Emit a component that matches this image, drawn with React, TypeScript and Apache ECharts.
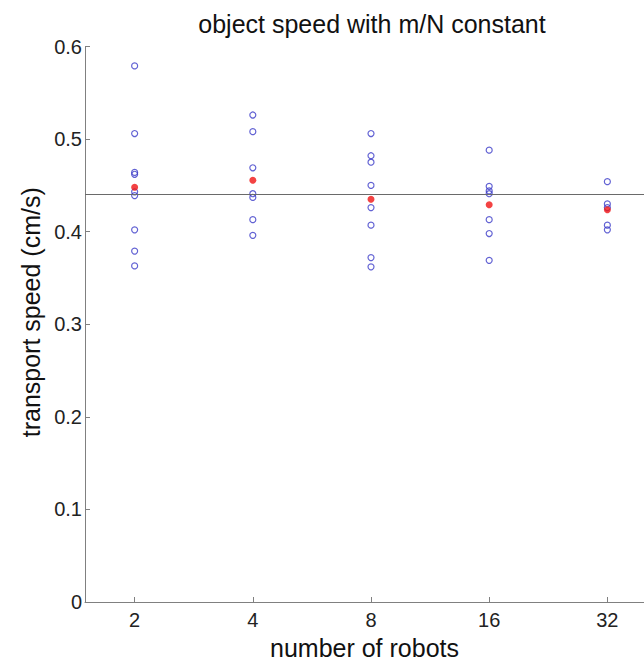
import React, { useEffect, useRef } from "react";
import * as echarts from "echarts";

const robots = [2, 4, 8, 16, 32];
const speeds2 = [0.579, 0.506, 0.464, 0.462, 0.443, 0.439, 0.402, 0.379, 0.363];
const speeds4 = [0.526, 0.508, 0.469, 0.441, 0.437, 0.413, 0.396];
const speeds8 = [0.506, 0.482, 0.475, 0.45, 0.426, 0.407, 0.372, 0.362];
const speeds16 = [0.488, 0.449, 0.444, 0.441, 0.413, 0.398, 0.369];
const speeds32 = [0.454, 0.43, 0.426, 0.407, 0.402];
const meanSpeeds = [0.448, 0.4555, 0.435, 0.429, 0.4237];
const overallMean = 0.4375;
const yTicks = [0, 0.1, 0.2, 0.3, 0.4, 0.5, 0.6];

const runs = [speeds2, speeds4, speeds8, speeds16, speeds32];

export default function App() {
  const ref = useRef<HTMLDivElement>(null);
  useEffect(() => {
    if (!ref.current) return;
    const chart = echarts.init(ref.current, null, { renderer: "svg" });
    const xPos = robots.map((r) => Math.log2(r));
    const blueData: number[][] = [];
    runs.forEach((arr, i) => arr.forEach((v) => blueData.push([xPos[i], v])));
    const redData = meanSpeeds.map((v, i) => [xPos[i], v]);
    const font = "'Liberation Sans', Arial, sans-serif";
    chart.setOption({
      animation: false,
      title: {
        text: "object speed with m/N constant",
        left: 367,
        top: 6,
        textAlign: "center",
        textStyle: { fontFamily: font, fontSize: 25, fontWeight: "normal", color: "#111" },
      },
      grid: { left: 85, top: 46.5, bottom: 53, right: -5, containLabel: false },
      xAxis: {
        type: "value",
        min: 0.58,
        max: 5.31,
        name: "number of robots",
        nameLocation: "middle",
        nameGap: 33,
        nameTextStyle: { fontFamily: font, fontSize: 25, color: "#111" },
        axisLine: { show: true, lineStyle: { color: "#808080", width: 1 } },
        axisTick: { show: true, inside: true, length: 5, customValues: xPos, lineStyle: { color: "#808080" } },
        axisLabel: {
          customValues: xPos,
          formatter: (v: number) => String(Math.round(Math.pow(2, v))),
          fontFamily: font,
          fontSize: 20,
          color: "#222",
          margin: 8,
        },
        splitLine: { show: false },
      },
      yAxis: {
        type: "value",
        min: 0,
        max: 0.6,
        interval: 0.1,
        name: "transport speed (cm/s)",
        nameLocation: "middle",
        nameGap: 30,
        nameRotate: 90,
        nameTextStyle: { fontFamily: font, fontSize: 25, color: "#111", padding: [0, 0, 0, 24] },
        axisLine: { show: true, lineStyle: { color: "#808080", width: 1 } },
        axisTick: { show: true, inside: true, length: 5, lineStyle: { color: "#808080" } },
        axisLabel: {
          customValues: yTicks,
          formatter: (v: number) => String(Math.round(v * 10) / 10),
          fontFamily: font,
          fontSize: 20,
          color: "#222",
          margin: 3,
        },
        splitLine: { show: false },
      },
      series: [
        {
          type: "scatter",
          data: blueData,
          symbol: "circle",
          symbolSize: 6,
          itemStyle: { color: "none", borderColor: "#3b3bc8", borderWidth: 1.2 },
          markLine: {
            silent: true,
            symbol: "none",
            label: { show: false },
            lineStyle: { color: "#6a6a6a", width: 1.2, type: "solid" },
            data: [{ yAxis: overallMean }],
          },
          z: 2,
        },
        {
          type: "scatter",
          data: redData,
          symbol: "circle",
          symbolSize: 7,
          itemStyle: { color: "#f01414" },
          z: 3,
        },
      ],
    });
    return () => chart.dispose();
  }, []);
  return (
    <div
      ref={ref}
      style={{ position: "absolute", left: 0, top: 0, width: 644, height: 665, background: "#fff" }}
    />
  );
}
